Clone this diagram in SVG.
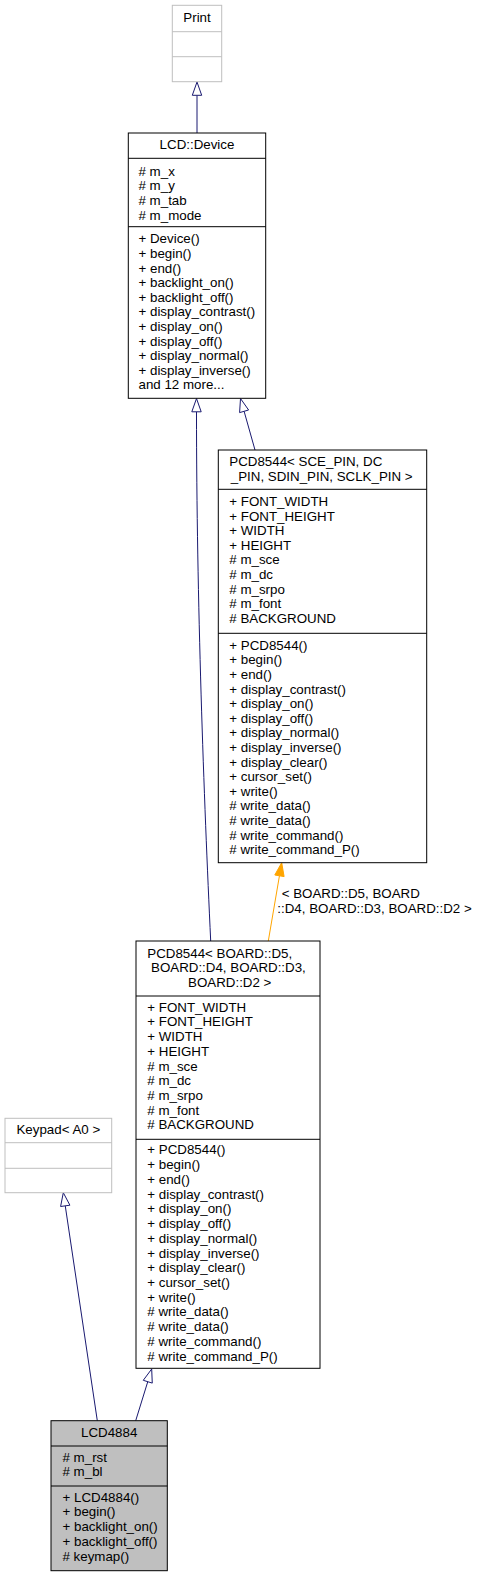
<svg xmlns="http://www.w3.org/2000/svg" width="483" height="1576" viewBox="0 0 483 1576">
<style>
text{font-family:"Liberation Sans",Arial,Helvetica,sans-serif;font-size:13.33px;fill:#000}
.c{text-anchor:middle}
.box{fill:#fff;stroke:#000;stroke-width:1}
.gbox{fill:#fff;stroke:#bfbfbf;stroke-width:1}
.dbox{fill:#bfbfbf;stroke:#000;stroke-width:1}
.ln{stroke:#000;stroke-width:1}
.gln{stroke:#bfbfbf;stroke-width:1}
.e{fill:none;stroke:#191970;stroke-width:1}
.h{fill:#fff;stroke:#191970;stroke-width:1}
.eo{fill:none;stroke:#ffa500;stroke-width:1}
.ho{fill:#ffa500;stroke:#ffa500;stroke-width:1}
</style>
<rect width="483" height="1576" fill="#fff"/>
<g id="connectors">
<path class="e" d="M197,95.3 L197,133"/>
<polygon class="h" points="197,82 192.3,95.3 201.7,95.3"/>
<path class="e" d="M196.5,411.8 C196.5,600 204,800 210.7,941"/>
<polygon class="h" points="196.5,398.5 191.8,411.8 201.2,411.8"/>
<path class="e" d="M244.1,411.3 L255,450"/>
<polygon class="h" points="240.5,398.5 248.6,410 239.6,412.6"/>
<path class="eo" d="M279.45,875.8 L268.3,941"/>
<polygon class="ho" points="281.7,862.7 284.1,876.6 274.8,875"/>
<text x="281.7" y="898.3">&lt; BOARD::D5, BOARD</text>
<text x="277.3" y="912.7">::D4, BOARD::D3, BOARD::D2 &gt;</text>
<path class="e" d="M65.26,1205.85 L97.3,1420.7"/>
<polygon class="h" points="63.3,1192.7 69.9,1205.2 60.6,1206.5"/>
<path class="e" d="M147.76,1381.7 L135.7,1420.7"/>
<polygon class="h" points="151.7,1369 152.25,1383.1 143.27,1380.3"/>
</g>
<g id="Print">
<rect class="gbox" x="172.3" y="5.3" width="49.4" height="76.4"/>
<line class="gln" x1="172.3" y1="31.7" x2="221.7" y2="31.7"/>
<line class="gln" x1="172.3" y1="56.7" x2="221.7" y2="56.7"/>
<text class="c" x="197" y="22">Print</text>
</g>
<g id="LCD_Device">
<rect class="box" x="128.3" y="133" width="137.4" height="265.3"/>
<line class="ln" x1="128.3" y1="158.3" x2="265.7" y2="158.3"/>
<line class="ln" x1="128.3" y1="226.7" x2="265.7" y2="226.7"/>
<text class="c" x="197" y="149">LCD::Device</text>
<text x="138.5" y="175.7"># m_x</text>
<text x="138.5" y="190.4"># m_y</text>
<text x="138.5" y="205.1"># m_tab</text>
<text x="138.5" y="219.8"># m_mode</text>
<text x="138.5" y="243.3">+ Device()</text>
<text x="138.5" y="257.9">+ begin()</text>
<text x="138.5" y="272.5">+ end()</text>
<text x="138.5" y="287.1">+ backlight_on()</text>
<text x="138.5" y="301.7">+ backlight_off()</text>
<text x="138.5" y="316.3">+ display_contrast()</text>
<text x="138.5" y="330.9">+ display_on()</text>
<text x="138.5" y="345.5">+ display_off()</text>
<text x="138.5" y="360.1">+ display_normal()</text>
<text x="138.5" y="374.7">+ display_inverse()</text>
<text x="138.5" y="389.3">and 12 more...</text>
</g>
<g id="PCD8544_generic">
<rect class="box" x="218.3" y="450" width="208.4" height="412.7"/>
<line class="ln" x1="218.3" y1="489.3" x2="426.7" y2="489.3"/>
<line class="ln" x1="218.3" y1="633.3" x2="426.7" y2="633.3"/>
<text x="229.3" y="466">PCD8544&lt; SCE_PIN, DC</text>
<text class="c" x="321.7" y="480.7">_PIN, SDIN_PIN, SCLK_PIN &gt;</text>
<text x="229.3" y="506">+ FONT_WIDTH</text>
<text x="229.3" y="520.6">+ FONT_HEIGHT</text>
<text x="229.3" y="535.2">+ WIDTH</text>
<text x="229.3" y="549.8">+ HEIGHT</text>
<text x="229.3" y="564.4"># m_sce</text>
<text x="229.3" y="579"># m_dc</text>
<text x="229.3" y="593.6"># m_srpo</text>
<text x="229.3" y="608.2"># m_font</text>
<text x="229.3" y="622.8"># BACKGROUND</text>
<text x="229.3" y="649.6">+ PCD8544()</text>
<text x="229.3" y="664.2">+ begin()</text>
<text x="229.3" y="678.8">+ end()</text>
<text x="229.3" y="693.5">+ display_contrast()</text>
<text x="229.3" y="708.1">+ display_on()</text>
<text x="229.3" y="722.7">+ display_off()</text>
<text x="229.3" y="737.3">+ display_normal()</text>
<text x="229.3" y="751.9">+ display_inverse()</text>
<text x="229.3" y="766.6">+ display_clear()</text>
<text x="229.3" y="781.2">+ cursor_set()</text>
<text x="229.3" y="795.8">+ write()</text>
<text x="229.3" y="810.4"># write_data()</text>
<text x="229.3" y="825"># write_data()</text>
<text x="229.3" y="839.7"># write_command()</text>
<text x="229.3" y="854.3"># write_command_P()</text>
</g>
<g id="PCD8544_BOARD">
<rect class="box" x="136" y="941" width="184" height="427.3"/>
<line class="ln" x1="136" y1="996" x2="320" y2="996"/>
<line class="ln" x1="136" y1="1139.3" x2="320" y2="1139.3"/>
<text x="147.3" y="957.7">PCD8544&lt; BOARD::D5,</text>
<text x="151" y="972.4">BOARD::D4, BOARD::D3,</text>
<text class="c" x="229.7" y="987.1">BOARD::D2 &gt;</text>
<text x="147.3" y="1011.7">+ FONT_WIDTH</text>
<text x="147.3" y="1026.4">+ FONT_HEIGHT</text>
<text x="147.3" y="1041.1">+ WIDTH</text>
<text x="147.3" y="1055.8">+ HEIGHT</text>
<text x="147.3" y="1070.5"># m_sce</text>
<text x="147.3" y="1085.2"># m_dc</text>
<text x="147.3" y="1099.9"># m_srpo</text>
<text x="147.3" y="1114.6"># m_font</text>
<text x="147.3" y="1129.3"># BACKGROUND</text>
<text x="147.3" y="1154.3">+ PCD8544()</text>
<text x="147.3" y="1169">+ begin()</text>
<text x="147.3" y="1183.8">+ end()</text>
<text x="147.3" y="1198.5">+ display_contrast()</text>
<text x="147.3" y="1213.3">+ display_on()</text>
<text x="147.3" y="1228">+ display_off()</text>
<text x="147.3" y="1242.7">+ display_normal()</text>
<text x="147.3" y="1257.5">+ display_inverse()</text>
<text x="147.3" y="1272.2">+ display_clear()</text>
<text x="147.3" y="1287">+ cursor_set()</text>
<text x="147.3" y="1301.7">+ write()</text>
<text x="147.3" y="1316.4"># write_data()</text>
<text x="147.3" y="1331.2"># write_data()</text>
<text x="147.3" y="1345.9"># write_command()</text>
<text x="147.3" y="1360.7"># write_command_P()</text>
</g>
<g id="Keypad">
<rect class="gbox" x="5" y="1118.3" width="106.7" height="74.4"/>
<line class="gln" x1="5" y1="1142.7" x2="111.7" y2="1142.7"/>
<line class="gln" x1="5" y1="1168.3" x2="111.7" y2="1168.3"/>
<text class="c" x="58.3" y="1133.8">Keypad&lt; A0 &gt;</text>
</g>
<g id="LCD4884">
<rect class="dbox" x="51" y="1420.7" width="116.3" height="150"/>
<line class="ln" x1="51" y1="1446" x2="167.3" y2="1446"/>
<line class="ln" x1="51" y1="1486" x2="167.3" y2="1486"/>
<text class="c" x="109.2" y="1436.5">LCD4884</text>
<text x="62.5" y="1461.7"># m_rst</text>
<text x="62.5" y="1476.4"># m_bl</text>
<text x="62.5" y="1501.7">+ LCD4884()</text>
<text x="62.5" y="1516.4">+ begin()</text>
<text x="62.5" y="1531.1">+ backlight_on()</text>
<text x="62.5" y="1545.8">+ backlight_off()</text>
<text x="62.5" y="1560.5"># keymap()</text>
</g>
</svg>
